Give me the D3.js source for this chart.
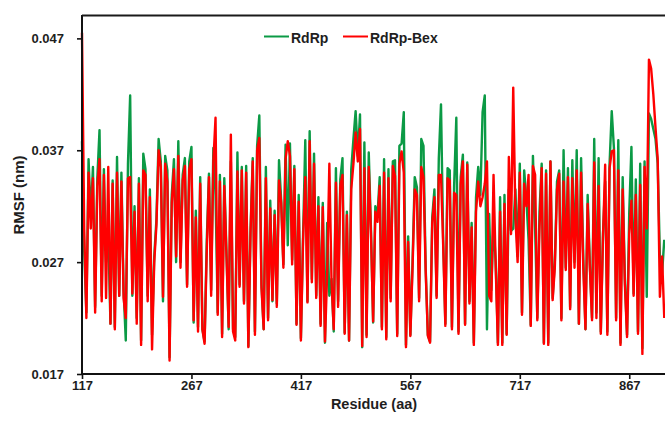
<!DOCTYPE html>
<html>
<head>
<meta charset="utf-8">
<script src="https://cdn.jsdelivr.net/npm/d3@7"></script>
<style>
  body { margin: 0; background: #fff; }
  svg { display: block; font-family: "Liberation Sans", Arial, sans-serif; }
</style>
</head>
<body>
<div id="chart"></div>
<script>
// RMSF per residue, in units of 0.001 nm (every 3rd residue from 117)
const residueStart = 117;
const residueStep = 3;

const rmsfRdRp = [
  37.8, 28.0, 22.5, 36.2, 31.0, 35.5, 23.0, 34.5, 38.8, 24.0,
  35.3, 27.0, 29.5, 21.5, 34.3, 21.2, 36.4, 24.0, 35.0, 24.5,
  20.0, 35.8, 41.9, 24.0, 32.0, 22.0, 34.5, 20.0, 36.7, 35.3,
  24.0, 33.5, 20.5, 27.5, 30.8, 38.0, 36.0, 23.5, 36.5, 35.2,
  18.5, 33.0, 36.2, 27.0, 37.8,
  27.0, 34.8, 36.3, 25.0, 36.0, 37.3, 21.6, 31.6, 21.2, 34.6,
  21.0, 19.9, 29.0, 34.9, 24.5, 37.2, 33.0, 22.5, 34.8, 20.6,
  34.5, 28.0, 21.0, 36.0, 21.0, 20.3, 36.8, 25.0, 35.5, 23.5,
  35.6, 19.5, 30.0, 36.3, 20.8, 37.4, 40.1, 25.0, 21.0, 35.5,
  22.0, 32.5, 23.5, 31.6,
  23.3, 36.1, 32.5, 26.8, 37.5, 28.5, 37.6, 27.2, 35.6, 21.5,
  33.0, 20.2, 29.5, 37.9, 23.5, 38.7, 25.5, 36.7, 24.0, 32.8,
  21.5, 32.3, 19.8, 30.5, 24.0, 25.5, 20.8, 35.4, 23.5, 34.4,
  36.3, 20.7, 31.5, 20.0, 35.3, 38.0, 40.5, 36.5, 40.2, 19.4,
  37.7, 20.5, 36.8, 30.0, 21.6, 32.0,
  31.2, 34.6, 21.2, 36.2, 20.3, 35.3, 23.8, 36.0, 36.1, 20.6,
  37.4, 37.6, 40.4, 19.6, 29.3, 20.5, 27.0, 34.6, 33.7, 23.8,
  38.0, 37.4, 26.5, 20.5, 19.9, 31.0, 33.5, 24.0, 36.3, 41.1,
  29.0, 21.5, 35.4, 35.2, 21.2, 33.8, 39.9, 20.8, 34.6, 36.6,
  21.5, 35.9, 23.5, 30.5,
  19.8, 32.8, 35.5, 33.0, 40.4, 41.9, 21.0, 31.3, 24.5, 30.5,
  27.0, 19.8, 32.8, 19.8, 33.0, 20.6, 33.5, 29.8, 30.0, 33.5,
  27.5, 35.8, 22.5, 35.2, 32.6, 29.0, 21.4, 36.5, 30.0, 22.0,
  31.5, 35.8, 19.8, 35.2, 19.8, 36.0, 23.8, 27.0, 34.2, 35.2,
  22.0, 37.0, 26.5, 35.4,
  23.0, 36.1, 27.0, 37.0, 21.5, 36.3, 27.5, 21.0, 33.0, 26.8,
  22.0, 38.0, 22.5, 36.3, 20.8, 29.5, 34.2, 20.8, 35.7, 40.5,
  37.2, 22.0, 37.9, 19.8, 34.6, 25.5, 20.5, 31.5, 37.3, 24.2,
  34.4, 20.8, 35.8, 19.3, 36.0, 23.9, 40.3, 39.8, 38.9, 38.0,
  35.8, 27.5, 26.0, 29.0
];

const rmsfRdRpBex = [
  47.5, 30.0, 22.0, 35.0, 30.0, 34.5, 22.5, 33.8, 36.2, 23.5,
  34.8, 23.8, 35.5, 21.5, 34.0, 21.0, 35.0, 24.0, 34.2, 23.8,
  22.0, 34.5, 34.6, 24.2, 31.5, 21.5, 34.0, 19.6, 35.2, 34.8,
  23.5, 32.8, 19.2, 27.0, 30.3, 37.0, 35.5, 23.9, 35.8, 34.2,
  18.2, 32.3, 35.3, 27.5, 36.5,
  26.5, 34.3, 35.6, 24.8, 35.3, 36.2, 21.8, 31.0, 20.8, 34.0,
  21.0, 19.7, 28.0, 34.6, 24.0, 35.9, 39.9, 22.3, 34.2, 20.3,
  33.8, 27.5, 21.2, 38.4, 20.8, 20.0, 35.1, 24.8, 35.2, 23.3,
  35.0, 19.4, 29.7, 36.0, 20.5, 37.0, 38.1, 24.7, 21.0, 34.5,
  21.8, 31.8, 23.6, 31.2,
  23.0, 34.3, 32.3, 26.5, 36.2, 37.8, 36.5, 26.8, 35.3, 21.4,
  32.4, 20.0, 29.0, 34.6, 23.4, 37.8, 25.2, 35.8, 23.8, 32.0,
  21.3, 31.9, 19.9, 26.0, 35.8, 25.2, 21.0, 34.1, 23.0, 33.8,
  34.8, 20.6, 31.2, 20.0, 33.5, 35.8, 38.6, 36.0, 38.9, 19.5,
  35.4, 20.3, 35.5, 29.6, 21.7, 31.5,
  30.6, 33.8, 21.0, 35.0, 20.1, 34.5, 23.5, 35.6, 34.7, 20.4,
  35.8, 36.9, 35.0, 19.4, 28.8, 20.4, 26.5, 33.5, 33.0, 23.5,
  35.5, 34.6, 26.2, 20.4, 19.8, 30.5, 32.8, 23.8, 34.8, 34.8,
  28.5, 21.3, 34.5, 34.3, 21.0, 33.2, 33.0, 20.6, 34.0, 36.0,
  21.4, 35.7, 23.3, 30.1,
  19.6, 31.5, 34.2, 32.0, 32.8, 34.0, 36.0, 24.0, 23.5, 34.8,
  26.5, 19.6, 31.5, 19.6, 32.2, 20.5, 36.4, 29.5, 42.6, 31.0,
  27.0, 35.0, 22.3, 34.0, 32.0, 34.8, 21.3, 35.6, 34.8, 21.8,
  30.0, 35.4, 19.7, 34.9, 19.6, 36.0, 23.6, 26.5, 33.5, 34.9,
  21.8, 34.2, 26.3, 34.6,
  22.8, 34.5, 26.5, 35.2, 21.5, 35.0, 26.5, 21.0, 32.2, 26.5,
  21.8, 35.9, 22.0, 33.8, 20.6, 29.2, 35.7, 20.5, 35.4, 36.9,
  37.0, 21.8, 35.2, 19.6, 33.5, 25.0, 20.3, 29.5, 32.5, 24.0,
  33.0, 20.6, 33.9, 18.8, 35.5, 30.0, 45.1, 44.3, 42.0, 39.0,
  36.2, 23.9, 27.5, 22.0
];

const seriesNames = ["RdRp", "RdRp-Bex"];
const seriesColors = ["#0b9a45", "#ff0000"];

const xTicks = [117, 267, 417, 567, 717, 867];
const yTicks = [17, 27, 37, 47];
const yTickLabels = ["0.017", "0.027", "0.037", "0.047"];

const width = 665, height = 427;
const plot = { left: 82, right: 665, top: 16, bottom: 374 };

const svg = d3.select("#chart").append("svg")
    .attr("width", width)
    .attr("height", height);

svg.append("rect").attr("width", width).attr("height", height).attr("fill", "#fff");

const x = d3.scaleLinear().domain([117, 916]).range([plot.left, plot.right]);
const y = d3.scaleLinear().domain([17, 49]).range([plot.bottom, plot.top]);

const toPoints = vals => vals.map((v, i) => ({ res: residueStart + i * residueStep, v }));

const line = d3.line()
    .x(d => x(d.res))
    .y(d => y(d.v));

// series: green first, red drawn on top
[rmsfRdRp, rmsfRdRpBex].forEach((vals, k) => {
    svg.append("path")
        .datum(toPoints(vals))
        .attr("fill", "none")
        .attr("stroke", seriesColors[k])
        .attr("stroke-width", 2.4)
        .attr("stroke-linejoin", "round")
        .attr("d", line);
});

// axes
const yAxis = svg.append("g")
    .attr("transform", `translate(${plot.left},0)`)
    .call(d3.axisLeft(y).tickValues(yTicks).tickFormat((d, i) => yTickLabels[i])
        .tickSize(5).tickPadding(13));

const xAxis = svg.append("g")
    .attr("transform", `translate(0,${plot.bottom})`)
    .call(d3.axisBottom(x).tickValues(xTicks).tickFormat(d3.format("d"))
        .tickSize(5).tickPadding(2));

[yAxis, xAxis].forEach(g => {
    g.select(".domain").remove();
    g.selectAll(".tick line").attr("stroke", "#111").attr("stroke-width", 1.6);
    g.selectAll(".tick text")
        .attr("fill", "#1e1e1e")
        .style("font-size", "13px")
        .style("font-weight", "bold")
        .style("font-family", "'Liberation Sans', Arial, sans-serif");
});

// frame lines
svg.append("line")
    .attr("x1", plot.left).attr("x2", plot.left)
    .attr("y1", plot.top - 1).attr("y2", plot.bottom + 1)
    .attr("stroke", "#111").attr("stroke-width", 2);
svg.append("line")
    .attr("x1", plot.left - 1).attr("x2", plot.right)
    .attr("y1", plot.bottom).attr("y2", plot.bottom)
    .attr("stroke", "#111").attr("stroke-width", 2);
svg.append("line")
    .attr("x1", plot.left).attr("x2", plot.right)
    .attr("y1", plot.top - 0.5).attr("y2", plot.top - 0.5)
    .attr("stroke", "#1a1a1a").attr("stroke-width", 2);

// axis titles
svg.append("text")
    .attr("transform", "translate(24,195) rotate(-90)")
    .attr("text-anchor", "middle")
    .attr("fill", "#1e1e1e")
    .style("font-size", "15px")
    .style("font-weight", "bold")
    .text("RMSF (nm)");

svg.append("text")
    .attr("x", 374)
    .attr("y", 409)
    .attr("text-anchor", "middle")
    .attr("fill", "#1e1e1e")
    .style("font-size", "14.5px")
    .style("font-weight", "bold")
    .text("Residue (aa)");

// legend
const legendX = [264, 343];
seriesNames.forEach((name, k) => {
    svg.append("line")
        .attr("x1", legendX[k]).attr("x2", legendX[k] + 25)
        .attr("y1", 36.5).attr("y2", 36.5)
        .attr("stroke", seriesColors[k]).attr("stroke-width", 2);
    svg.append("text")
        .attr("x", legendX[k] + 27)
        .attr("y", 42.5)
        .attr("fill", "#1e1e1e")
        .style("font-size", "14px")
        .style("font-weight", "bold")
        .text(name);
});
</script>
</body>
</html>
